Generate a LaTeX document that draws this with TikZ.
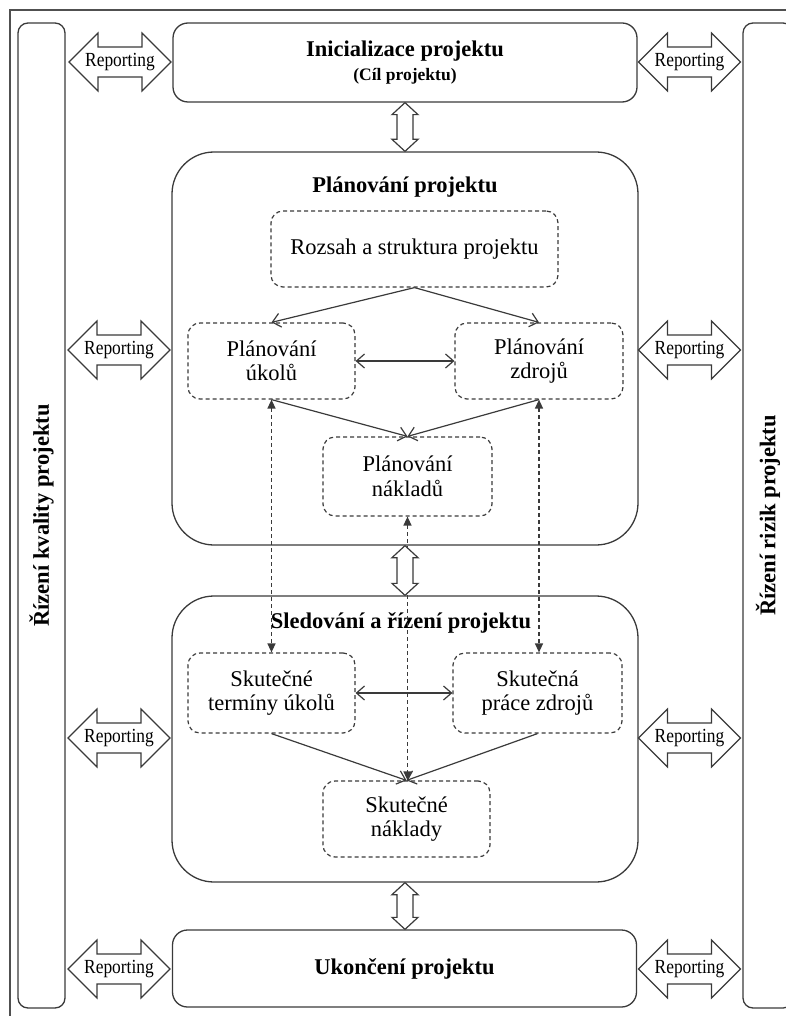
\documentclass[tikz,border=0pt]{standalone}
\usepackage{fontspec}
\usepackage{graphicx}
\setmainfont{Liberation Serif}
\usetikzlibrary{arrows.meta,calc}
\definecolor{ink}{HTML}{3A3A3A}
\definecolor{framegray}{HTML}{505050}
\newcommand\bigfont{\fontsize{22.5}{24.5}\selectfont}
\newcommand\smallbold{\fontsize{17.5}{21}\selectfont\bfseries}
\newcommand\repfont{\fontsize{20}{22}\selectfont}

% hollow double arrow carrying the word "Reporting"
\newcommand\reportarrow[2]{%
  \draw[hollow, shift={(#2)}] (-51,0) -- (-22,-29) -- (-22,-15) -- (22,-15) -- (22,-29)
    -- (51,0) -- (22,29) -- (22,15) -- (-22,15) -- (-22,29) -- cycle;
  \node[reptext] (#1) at (#2) {\scalebox{0.87}[1]{Reporting}};}

% hollow vertical double arrow between two phase boxes
\newcommand\phaselink[2]{%
  \draw[hollow] let \p1=(#1), \p2=(#2) in
    (\x1,\y1) -- (\x1+13pt,\y1-12pt) -- (\x1+8pt,\y1-12pt) -- (\x1+8pt,\y2+12pt)
    -- (\x1+13pt,\y2+12pt) -- (\x1,\y2) -- (\x1-13pt,\y2+12pt) -- (\x1-8pt,\y2+12pt)
    -- (\x1-8pt,\y1-12pt) -- (\x1-13pt,\y1-12pt) -- cycle;}

\begin{document}
\begin{tikzpicture}[x=1pt,y=-1pt,
  mainbox/.style={draw=ink, line width=1.3pt, rounded corners=15pt, inner sep=0pt,
    align=center, font=\bigfont\bfseries},
  phasebox/.style={draw=ink, line width=1.3pt, rounded corners=42pt, inner sep=0pt},
  sidebox/.style={draw=ink, line width=1.3pt, rounded corners=10pt, rotate=90,
    inner sep=0pt, minimum width=985pt, font=\bigfont\bfseries},
  stepbox/.style={draw=ink, line width=1.2pt, dash pattern=on 4pt off 3pt,
    rounded corners=12pt, inner sep=0pt, align=center, font=\bigfont},
  phasetitle/.style={inner sep=0pt, font=\bigfont\bfseries},
  flow/.style={draw=ink, line width=1.2pt, -{Straight Barb[length=8pt,width=14pt]}},
  flowboth/.style={draw=ink, line width=1.2pt,
    {Straight Barb[length=8pt,width=14pt]}-{Straight Barb[length=8pt,width=14pt]}},
  link/.style={draw=ink, line width=1.3pt, dash pattern=on 4pt off 3pt,
    {Triangle[length=9pt,width=8pt]}-{Triangle[length=9pt,width=8pt]}},
  hollow/.style={draw=ink, line width=1.2pt, fill=white},
  reptext/.style={inner sep=0pt, font=\repfont},
  frame/.style={draw=framegray, line width=2pt}]

\useasboundingbox (0,0) rectangle (786,1016);
\clip (0,0) rectangle (786,1016);

% page frame
\draw[frame] (9.5,1020) -- (9.5,10.5) -- (790,10.5);

% side boxes
\node[sidebox, minimum height=47pt] (quality) at (41.5,515.5) {Řízení kvality projektu};
\node[sidebox, minimum height=50pt] (risk) at (768,515.5) {Řízení rizik projektu};

% phase boxes
\node[mainbox, minimum width=464pt, minimum height=79pt] (init) at (405,62.5)
  {Inicializace projektu\\[-1pt]{\smallbold (Cíl projektu)}};
\node[phasebox, minimum width=466pt, minimum height=393pt] (plan) at (405,348.5) {};
\node[phasebox, minimum width=466pt, minimum height=286pt] (track) at (405,739) {};
\node[mainbox, minimum width=464pt, minimum height=77pt] (finish) at (404.5,968.5)
  {Ukončení projektu};

\node[phasetitle] (plantitle) at (405,187) {Plánování projektu};
\node[phasetitle] (tracktitle) at (401,623) {Sledování a řízení projektu};

% planning steps
\node[stepbox, minimum width=287pt, minimum height=76pt] (scope) at (414.5,249)
  {Rozsah a struktura projektu};
\node[stepbox, minimum width=167pt, minimum height=76pt] (ptask) at (271.5,361)
  {Plánování\\úkolů};
\node[stepbox, minimum width=168pt, minimum height=76pt] (pres) at (539,361)
  {Plánování\\zdrojů};
\node[stepbox, minimum width=169pt, minimum height=79pt] (pcost) at (407.5,476.5)
  {Plánování\\nákladů};

% tracking steps
\node[stepbox, minimum width=167pt, minimum height=80pt] (atask) at (271.5,693)
  {Skutečné\\termíny úkolů};
\node[stepbox, minimum width=169pt, minimum height=80pt] (ares) at (537.5,693)
  {Skutečná\\práce zdrojů};
\node[stepbox, minimum width=167pt, minimum height=76pt] (acost) at (406.5,819)
  {Skutečné\\náklady};

% flows inside the phases
\draw[flow] (scope.south) -- (ptask.north);
\draw[flow] (scope.south) -- (pres.north);
\draw[flowboth] (ptask.east) -- (pres.west);
\draw[flow] (ptask.south) -- (pcost.north);
\draw[flow] (pres.south) -- (pcost.north);
\draw[flowboth] (atask.east) -- (ares.west);
\draw[flow] (atask.south) -- (acost.north);
\draw[flow] (ares.south) -- (acost.north);

% plan versus actual
\draw[link] (ptask.south) -- (ptask.south |- atask.north);
\draw[link] (pres.south) -- (pres.south |- ares.north);
\draw[link] (pcost.south) -- (pcost.south |- acost.north);

% links between phases
\phaselink{init.south}{plan.north}
\phaselink{plan.south}{track.north}
\phaselink{track.south}{finish.north}

% reporting to the side processes
\reportarrow{repla}{120,62}
\reportarrow{repra}{689.5,62}
\reportarrow{replb}{119,350}
\reportarrow{reprb}{689.5,350}
\reportarrow{replc}{119,738}
\reportarrow{reprc}{689.5,738}
\reportarrow{repld}{119,969}
\reportarrow{reprd}{689.5,969}
\end{tikzpicture}
\end{document}
